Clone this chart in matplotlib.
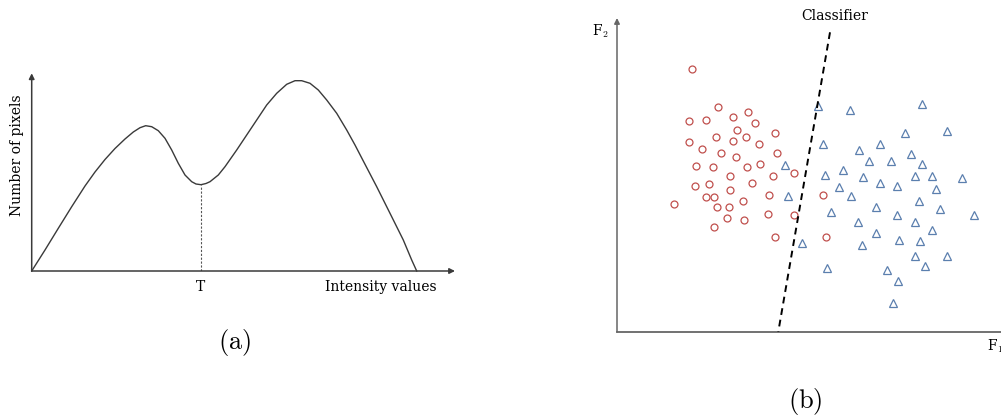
import numpy as np
import matplotlib.pyplot as plt

plt.rcParams['mathtext.fontset'] = 'cm'
SERIF = 'DejaVu Serif'

# (a) histogram curve: intensity vs number of pixels
intensity = [0, 13.3, 26.6, 40, 53.3, 63.3, 73.3, 83.3, 93.3, 101.6, 108.3, 114,
             120, 126.6, 133.3, 140, 146.6, 153.3, 160, 164.3, 169.3, 174.3,
             178.3, 186.6, 193.3, 205, 215, 225, 235, 245, 255, 263.3, 270,
             278.3, 286.6, 295, 305, 315, 323.3, 331.6, 345, 358.3, 371.6, 380, 385]
n_pixels = [0, 21, 42.7, 64.3, 85, 99, 111.5, 122.5, 132, 139, 143.3, 145.3,
            144.3, 140.3, 132.7, 121, 107.7, 96, 89.3, 87, 86.3, 87.5,
            89.3, 96, 104.3, 121, 136, 151, 166, 177.7, 186.7, 190.3, 190.3,
            187.7, 181, 171, 157.7, 141, 126, 110, 84.3, 57.7, 31, 11, 0]
threshold = 169.3

# (b) two classes in feature space
class1_f1 = [74.7, 100.7, 72.3, 89, 116.3, 130.7, 137.7, 119.7, 158, 71.7, 85.3,
             99, 116, 128.7, 142, 160, 103.7, 119, 79.3, 95.7, 129.7, 143.3, 177,
             113.3, 156.3, 78, 92, 113.3, 135.3, 152, 89, 97.3, 126, 57, 100,
             111.7, 150.7, 177.3, 110, 127, 97, 158, 206.3, 208.7]
class1_f2 = [262.7, 225.3, 210.7, 211.7, 215.3, 220, 208.7, 202, 199.3, 189.7,
             183.3, 195, 191.3, 194.7, 187.7, 179, 178.7, 175, 166.3, 164.7,
             164.7, 168, 159, 156, 156, 146.3, 148.3, 142, 148.7, 137.3, 135.3,
             135, 130.7, 128, 125.3, 125.3, 118.3, 117.3, 114, 112, 105, 95, 137,
             94.7]
class2_f1 = [167.7, 170.7, 184.7, 201.3, 233.3, 304.7, 288, 330.3, 206, 241.7,
             263.3, 294, 252.3, 274, 304.7, 208.3, 225.7, 245.7, 263, 279.7,
             297.7, 315, 345.3, 221.7, 234, 319.3, 301.7, 259.3, 323, 214, 280,
             357.3, 241.3, 297.7, 258.7, 315.3, 282, 303.3, 244.7, 297.7, 330.3,
             308.3, 210.3, 270, 280.7, 276.3]
class2_f2 = [166.7, 136.3, 89.3, 226, 222, 228, 198.7, 200.7, 187.7, 182, 187.7,
             178.3, 171.3, 171.3, 167.7, 156.7, 161.7, 155.3, 148.7, 146, 156,
             156.3, 154, 145.3, 136.3, 142.7, 131.3, 125.3, 122.7, 120, 117.3,
             117.3, 110, 110, 99.3, 102.3, 92.3, 91.3, 87.3, 76.3, 76.3, 66, 64.3,
             61.7, 51, 29.3]
classifier_f1 = [213, 161.3]
classifier_f2 = [299.7, 0.3]

W, H = 1001, 419
fig = plt.figure(figsize=(W / 100, H / 100), dpi=100)

# ---- panel (a)
ax1 = fig.add_axes([31.7 / W, (H - 271) / H, 423.3 / W, 197.7 / H])
ax1.set_xlim(0, 423.3)
ax1.set_ylim(0, 197.7)
ax1.axis('off')
arrow = dict(arrowstyle='-|>', mutation_scale=8, lw=1.1, color='#3a3a3a',
             shrinkA=0, shrinkB=0)
ax1.annotate('', xy=(423.3, 0), xytext=(0, 0), arrowprops=arrow, annotation_clip=False)
ax1.annotate('', xy=(0, 197.7), xytext=(0, 0), arrowprops=arrow, annotation_clip=False)
ax1.plot(intensity, n_pixels, color='#3a3a3a', lw=1.0, clip_on=False,
         solid_joinstyle='round', antialiased=True)
ax1.plot([threshold, threshold], [0, min(n_pixels[15:25])], color='#555555',
         lw=0.8, ls=(0, (2, 1.5)))
ax1.text(threshold, -15.7, 'T', ha='center', va='center', fontsize=10, family=SERIF)
ax1.text(349.3, -15.7, 'Intensity values', ha='center', va='center', fontsize=10,
         family=SERIF)
ax1.text(-15, 116, 'Number of pixels', ha='center', va='center', rotation=90,
         fontsize=10, family=SERIF)

# ---- panel (b)
ax2 = fig.add_axes([617 / W, (H - 332) / H, (W - 617) / W, 314 / H])
ax2.set_xlim(0, W - 617)
ax2.set_ylim(0, 314)
ax2.axis('off')
arrow2 = dict(arrowstyle='-|>', mutation_scale=8, lw=1.1, color='#666666',
              shrinkA=0, shrinkB=0)
ax2.annotate('', xy=(0, 314), xytext=(0, 0), arrowprops=arrow2, annotation_clip=False)
ax2.plot([0, W - 617], [0, 0], color='#666666', lw=1.3, clip_on=False)
ax2.plot(class1_f1, class1_f2, 'o', ms=5, mfc='none', mec='#c0504d', mew=0.9,
         clip_on=False)
ax2.plot(class2_f1, class2_f2, '^', ms=6, mfc='none', mec='#5b7fae', mew=0.9,
         clip_on=False)
ax2.plot(classifier_f1, classifier_f2, color='black', lw=1.4, ls=(0, (3.5, 2.5)))
ax2.text(217.7, 316, 'Classifier', ha='center', va='center', fontsize=10,
         family=SERIF)
ax2.text(-17, 300.3, r'F$_2$', ha='center', va='center', fontsize=10, family=SERIF)
ax2.text(370, -14, r'F$_1$', ha='left', va='center', fontsize=10, family=SERIF)

fig.text(235 / W, 1 - 342.7 / H, r'$\mathrm{(a)}$', ha='center', va='center',
         fontsize=19)
fig.text(805.3 / W, 1 - 401.7 / H, r'$\mathrm{(b)}$', ha='center', va='center',
         fontsize=19)

fig.savefig('out.png', dpi=100, facecolor='white')
